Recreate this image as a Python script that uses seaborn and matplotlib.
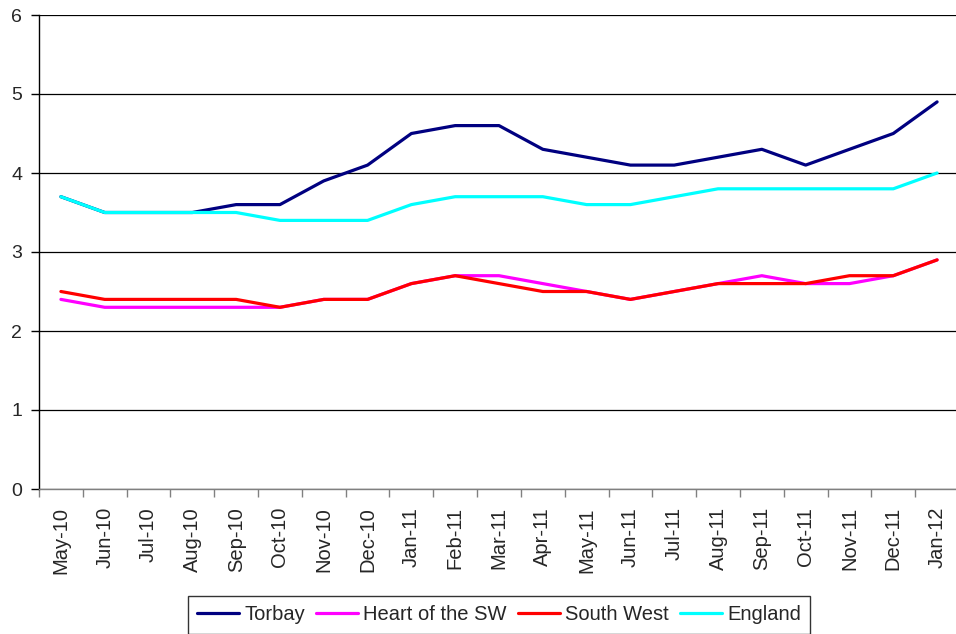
import pandas as pd
import numpy as np
import matplotlib.pyplot as plt
import seaborn as sns

# setup
sns.set_theme(style='white')
plt.rcParams['font.family'] = ['Liberation Sans', 'DejaVu Sans']

# data
months = ['May-10', 'Jun-10', 'Jul-10', 'Aug-10', 'Sep-10', 'Oct-10', 'Nov-10',
          'Dec-10', 'Jan-11', 'Feb-11', 'Mar-11', 'Apr-11', 'May-11', 'Jun-11',
          'Jul-11', 'Aug-11', 'Sep-11', 'Oct-11', 'Nov-11', 'Dec-11', 'Jan-12']
torbay = [3.7, 3.5, 3.5, 3.5, 3.6, 3.6, 3.9, 4.1, 4.5, 4.6, 4.6,
          4.3, 4.2, 4.1, 4.1, 4.2, 4.3, 4.1, 4.3, 4.5, 4.9]
heart_sw = [2.4, 2.3, 2.3, 2.3, 2.3, 2.3, 2.4, 2.4, 2.6, 2.7, 2.7,
            2.6, 2.5, 2.4, 2.5, 2.6, 2.7, 2.6, 2.6, 2.7, 2.9]
south_west = [2.5, 2.4, 2.4, 2.4, 2.4, 2.3, 2.4, 2.4, 2.6, 2.7, 2.6,
              2.5, 2.5, 2.4, 2.5, 2.6, 2.6, 2.6, 2.7, 2.7, 2.9]
england = [3.7, 3.5, 3.5, 3.5, 3.5, 3.4, 3.4, 3.4, 3.6, 3.7, 3.7,
           3.7, 3.6, 3.6, 3.7, 3.8, 3.8, 3.8, 3.8, 3.8, 4.0]

series = {
    'Torbay': torbay,
    'Heart of the SW': heart_sw,
    'South West': south_west,
    'England': england,
}
colors = {
    'Torbay': '#000080',
    'Heart of the SW': '#FF00FF',
    'South West': '#FF0000',
    'England': '#00FFFF',
}

# long form table
frames = []
for name, vals in series.items():
    frames.append(pd.DataFrame({'pos': np.arange(len(months)), 'value': vals, 'area': name}))
df = pd.concat(frames, ignore_index=True)

fig = plt.figure(figsize=(9.56, 6.34), dpi=100)
ax = fig.add_axes([39 / 956, 145 / 634, 920 / 956, 474 / 634])

sns.lineplot(data=df, x='pos', y='value', hue='area', palette=colors,
             linewidth=2.3, sort=False, ax=ax, legend=False)

ax.set_xlim(-0.5, 20.5)
ax.set_ylim(0, 6)
ax.set_yticks(range(0, 7))
ax.yaxis.grid(True, color='black', linewidth=0.9)
ax.set_axisbelow(True)

# ticks at category boundaries, labels at centres
ax.set_xticks(np.arange(-0.5, 21, 1))
ax.set_xticklabels([])
ax.set_xticks(range(len(months)), minor=True)
ax.set_xticklabels(months, minor=True, rotation=90, fontsize=14.5)
ax.tick_params(axis='x', which='major', length=6, width=1, color='#808080', direction='out', bottom=True)
ax.tick_params(axis='x', which='minor', length=0, pad=13)
ax.tick_params(axis='y', length=6, width=1, color='black', direction='out', left=True, labelsize=14, pad=6)

for side in ['top', 'right']:
    ax.spines[side].set_visible(False)
ax.spines['left'].set_color('black')
ax.spines['left'].set_linewidth(1)
ax.spines['bottom'].set_color('#808080')
ax.spines['bottom'].set_linewidth(1)
ax.set_xlabel('')
ax.set_ylabel('')

handles = [plt.Line2D([], [], color=colors[n], linewidth=2.3) for n in series]
leg = fig.legend(handles, list(series.keys()), loc='center', ncol=4,
                 bbox_to_anchor=(499 / 956, 1 - 615 / 634), fontsize=14.5,
                 frameon=True, fancybox=False, edgecolor='black',
                 handlelength=2.1, handletextpad=0.25, columnspacing=0.55,
                 borderpad=0.45)
leg.get_frame().set_linewidth(1)

plt.savefig('out.png', dpi=100)
